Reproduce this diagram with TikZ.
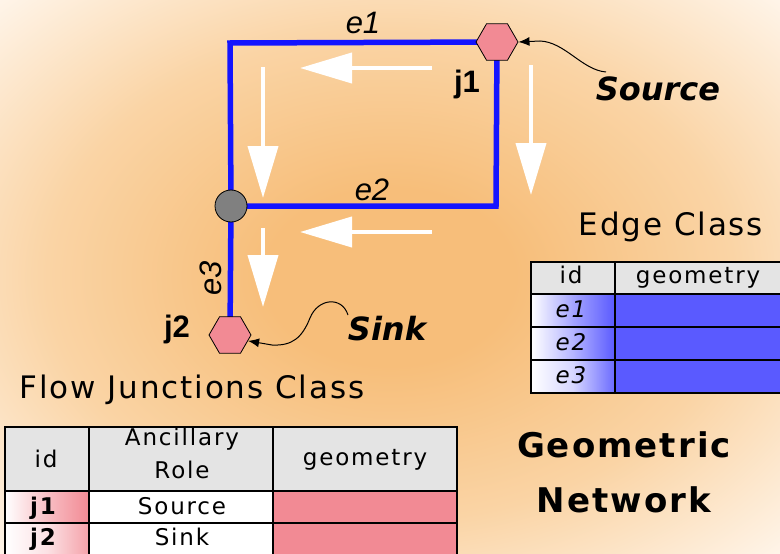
\documentclass[tikz,border=0pt]{standalone}
\usepackage{fontspec}
\setmainfont{Liberation Sans}
\newfontfamily\spaced[LetterSpace=6]{DejaVu Sans}
\newfontfamily\wide[LetterSpace=6]{DejaVu Sans}
\newfontfamily\tbl[LetterSpace=8]{DejaVu Sans}
\newfontfamily\dv{DejaVu Sans}
\usetikzlibrary{shapes.geometric,arrows.meta}
\definecolor{bgin}{RGB}{247,190,122}
\definecolor{bgmid}{RGB}{250,212,165}
\definecolor{bgout}{RGB}{255,246,236}
\definecolor{netblue}{RGB}{20,20,255}
\definecolor{jpink}{RGB}{242,138,148}
\definecolor{ebl}{RGB}{90,90,255}
\definecolor{hdr}{RGB}{228,228,228}
\definecolor{jgray}{RGB}{128,128,128}
\pgfdeclareradialshading{bgshade}{\pgfpoint{0bp}{0bp}}{color(0bp)=(bgin);color(8bp)=(bgin);color(22bp)=(bgmid);color(36bp)=(bgout);color(50bp)=(bgout)}
\pgfdeclarelayer{bg}
\pgfdeclarelayer{edges}
\pgfsetlayers{bg,edges,main}
\begin{document}
\begin{tikzpicture}[x=1pt,y=-1pt,
  edge/.style={line width=5.5pt, draw=netblue, line join=miter},
  flow/.style={draw=white, line width=4pt, -{Triangle[length=52pt,width=30pt]}},
  lead/.style={draw=black, line width=1pt, -{Latex[length=11pt,width=9pt]}},
  hexa/.style={regular polygon, regular polygon sides=6, minimum size=42pt, inner sep=0pt, draw=black, line width=0.8pt, fill=jpink},
  cell/.style={draw=black, line width=1.5pt},
  ttxt/.style={font=\tbl\fontsize{23}{25}\selectfont, inner sep=0pt, anchor=base},
  lbl/.style={font=\fontsize{31}{33}\selectfont\itshape, inner sep=0pt, anchor=base},
  jlbl/.style={font=\fontsize{31}{33}\selectfont\bfseries, inner sep=0pt, anchor=base},
  role/.style={font=\dv\bfseries\itshape\fontsize{32}{34}\selectfont, inner sep=0pt, anchor=base},
  title/.style={font=\spaced\fontsize{31}{33}\selectfont, inner sep=0pt, anchor=base},
  big/.style={font=\wide\bfseries\fontsize{34}{36}\selectfont, inner sep=0pt, anchor=base}]
\useasboundingbox (0,0) rectangle (780,554);
\begin{pgfonlayer}{bg}
\shade[shading=bgshade] (0,0) rectangle (780,554);
\end{pgfonlayer}
\clip (0,0) rectangle (780,554);

% junctions
\node[hexa] (j1) at (497,42) {};
\node[circle, minimum size=32pt, inner sep=0pt, draw=black, line width=0.8pt, fill=jgray] (g) at (231,206) {};
\node[hexa] (j2) at (230,335) {};
\coordinate (tl) at (230,43);
\coordinate (br) at (496,206);

\begin{pgfonlayer}{edges}
\draw[edge] (j1.center) -- (tl) -- (g.center);
\draw[edge] (j1.center) -- (br) -- (g.center);
\draw[edge] (g.center) -- (j2.center);
\end{pgfonlayer}

% labels
\node[lbl] (le1) at (363,33) {e1};
\node[lbl] (le2) at (372,200) {e2};
\node[lbl, rotate=90, anchor=center] (le3) at (211,278) {e3};
\node[jlbl] (lj1) at (467,92) {j1};
\node[jlbl] (lj2) at (177,337) {j2};

% flow arrows
\coordinate (a1s) at (432,68);  \coordinate (a1e) at (300,68);
\coordinate (a2s) at (263,67);  \coordinate (a2e) at (263,198);
\coordinate (a3s) at (531,65);  \coordinate (a3e) at (531,195);
\coordinate (a4s) at (432,232); \coordinate (a4e) at (300,232);
\coordinate (a5s) at (263,228); \coordinate (a5e) at (263,307);
\draw[flow] (a1s) -- (a1e);
\draw[flow] (a2s) -- (a2e);
\draw[flow] (a3s) -- (a3e);
\draw[flow] (a4s) -- (a4e);
\draw[flow] (a5s) -- (a5e);

% source / sink
\node[role] (src) at (658,100) {Source};
\node[role] (snk) at (387,340) {Sink};
\coordinate (srcw) at (606,72);
\coordinate (snkw) at (348,315);
\draw[lead] (srcw) .. controls (582,70) and (565,42) .. (540,41) -- (j1.east);
\draw[lead] (snkw) .. controls (342,296) and (318,298) .. (310,318) .. controls (302,338) and (292,346) .. (272,345) -- (j2.-18);

% titles
\node[title] (tedge) at (671,235) {Edge Class};
\node[title] (tflow) at (192,398) {Flow Junctions Class};
\node[big] (tgeo) at (624,457) {Geometric};
\node[big] (tnet) at (624,512) {Network};

% edge table
\fill[hdr] (531,262) rectangle (790,294);
\shade[left color=white, right color=ebl, middle color=ebl!55] (531,294) rectangle (615,327);
\shade[left color=white, right color=ebl, middle color=ebl!45] (531,327) rectangle (615,360);
\shade[left color=white, right color=ebl!90, middle color=ebl!25] (531,360) rectangle (615,393);
\fill[ebl] (615,294) rectangle (790,393);
\draw[cell] (531,262) rectangle (790,393);
\draw[cell] (615,262) -- (615,393);
\draw[cell] (531,294) -- (790,294);
\draw[cell] (531,327) -- (790,327);
\draw[cell] (531,360) -- (790,360);
\node[ttxt] (eid) at (571,283) {id};
\node[ttxt] (egeo) at (698,283) {geometry};
\node[ttxt, font=\tbl\fontsize{23}{25}\selectfont\itshape] (ee1) at (571,317) {e1};
\node[ttxt, font=\tbl\fontsize{23}{25}\selectfont\itshape] (ee2) at (571,350) {e2};
\node[ttxt, font=\tbl\fontsize{23}{25}\selectfont\itshape] (ee3) at (571,383) {e3};

% junction table
\fill[hdr] (5,427) rectangle (457,491);
\shade[left color=white, right color=jpink, middle color=jpink!55] (5,491) rectangle (89,523);
\shade[left color=white, right color=jpink!80, middle color=jpink!25] (5,523) rectangle (89,560);
\fill[white] (89,491) rectangle (273,560);
\fill[jpink] (273,491) rectangle (457,560);
\draw[cell] (5,427) rectangle (457,560);
\draw[cell] (89,427) -- (89,560);
\draw[cell] (273,427) -- (273,560);
\draw[cell] (5,491) -- (457,491);
\draw[cell] (5,523) -- (457,523);
\node[ttxt] (jid) at (46,467) {id};
\node[ttxt] (janc) at (182,445) {Ancillary};
\node[ttxt] (jrole) at (182,478) {Role};
\node[ttxt] (jgeo) at (365,465) {geometry};
\node[ttxt, font=\tbl\fontsize{23}{25}\selectfont\bfseries] (jj1) at (43,514) {j1};
\node[ttxt, font=\tbl\fontsize{23}{25}\selectfont\bfseries] (jj2) at (43,545) {j2};
\node[ttxt] (jsrc) at (182,514) {Source};
\node[ttxt] (jsnk) at (182,545) {Sink};
\end{tikzpicture}
\end{document}
